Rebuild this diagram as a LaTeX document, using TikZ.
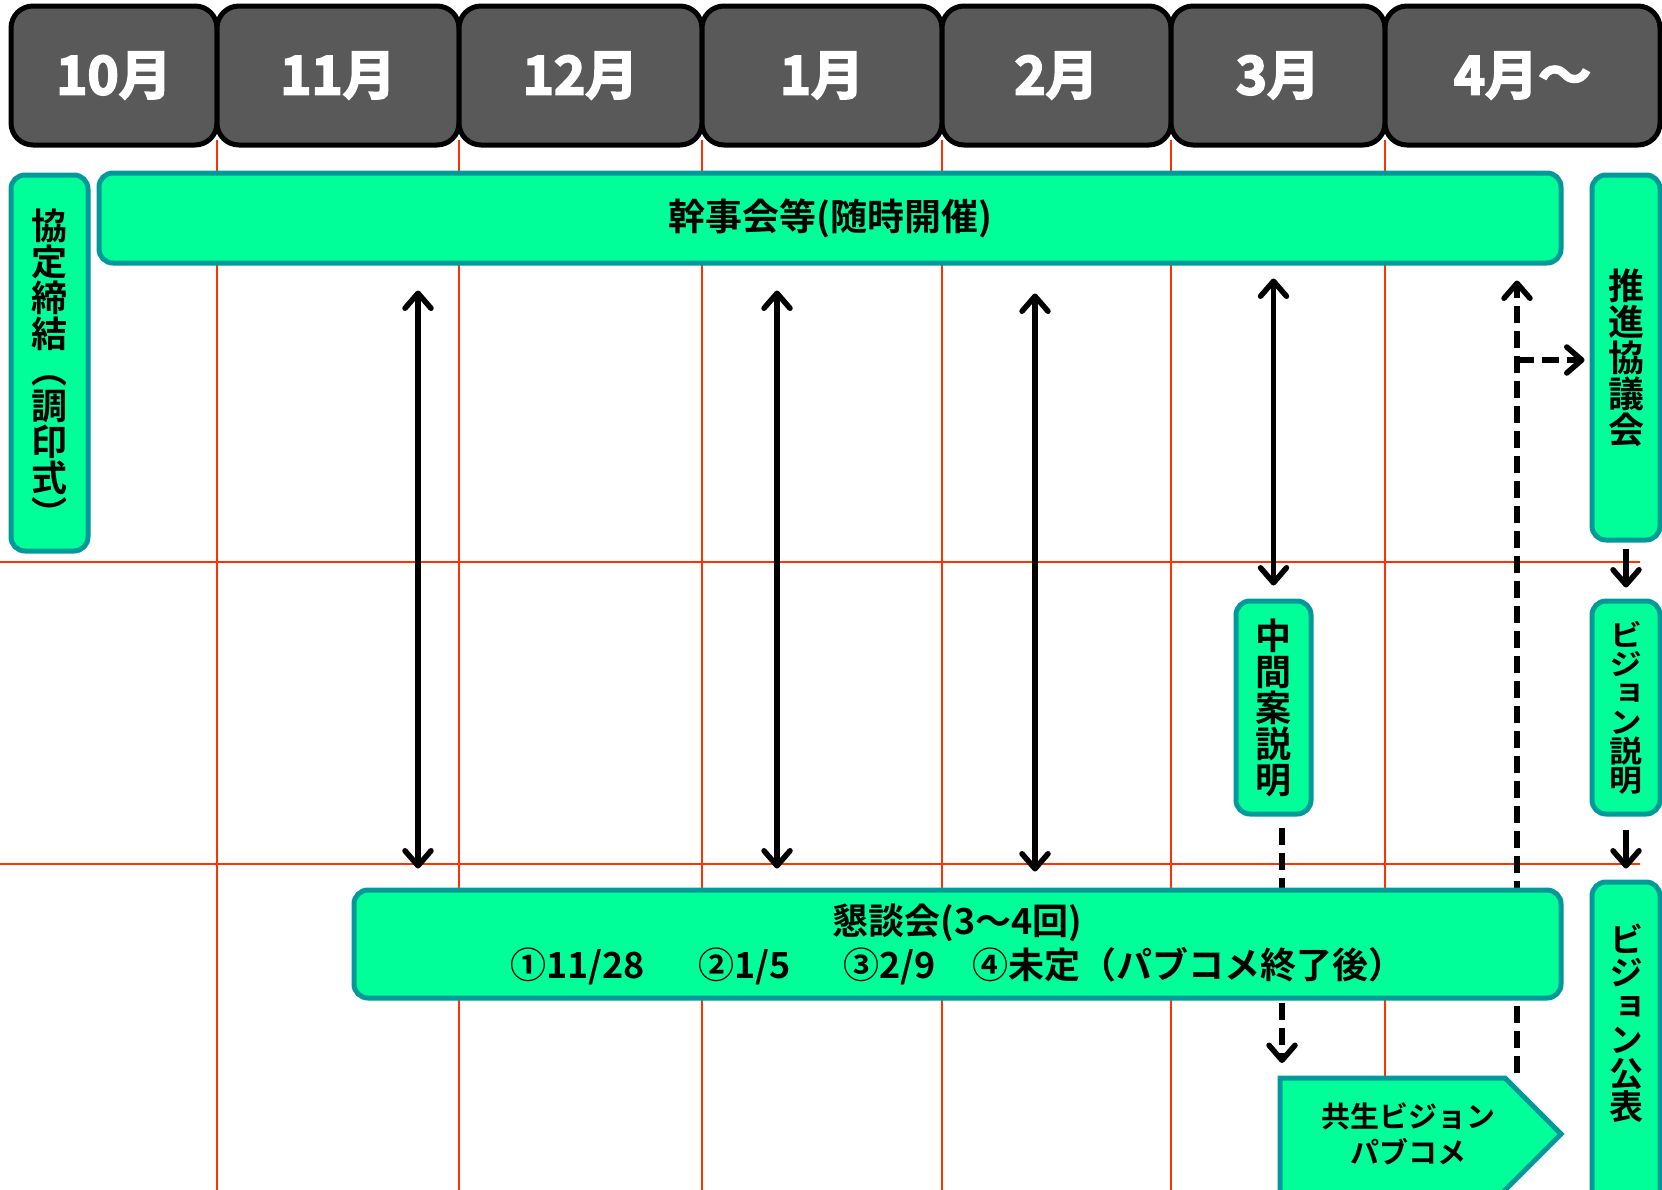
\documentclass[tikz,border=0pt]{standalone}
\usepackage{fontspec}
\newfontfamily\jp{Noto Sans CJK JP Bold}
\newfontfamily\jph{Noto Sans CJK JP Bold}[FakeBold=3.5]
\newfontfamily\jpv{Noto Sans CJK JP Bold}[RawFeature=+vert]
\newfontfamily\jpvw{Noto Sans CJK JP Bold}[RawFeature=+vert, FakeStretch=1.1]
\usetikzlibrary{arrows.meta}
\pgfdeclarelayer{bg}
\pgfdeclarelayer{mid}
\pgfsetlayers{bg,mid,main}
\definecolor{gfill}{HTML}{00FF99}
\definecolor{gline}{HTML}{009999}
\definecolor{hfill}{HTML}{595959}
\definecolor{gridred}{HTML}{FF3300}
\tikzset{
  month/.style={draw=black, line width=5pt, fill=hfill, rounded corners=22pt,
    minimum height=139pt, text=white, inner sep=0pt,
    font=\jph\fontsize{53pt}{53pt}\selectfont},
  gbox/.style={draw=gline, line width=5pt, fill=gfill, rounded corners=14pt,
    inner sep=0pt, font=\jp\fontsize{37pt}{37pt}\selectfont},
  vbox/.style={gbox, align=center, font=\jpv\fontsize{36pt}{36pt}\selectfont},
  vtext/.style={align=center, inner sep=0pt, font=\jpv\fontsize{34pt}{33.5pt}\selectfont},
  gridline/.style={draw=gridred, line width=2pt},
  tipb/.tip={Straight Barb[length=15pt,width=26pt,line join=round,line cap=round]},
  arr/.style={line width=5.5pt, -tipb},
  dbl/.style={line width=5.5pt, tipb-tipb},
  dsh/.style={line width=5.5pt, dash pattern=on 17pt off 8pt, -tipb},
}
\begin{document}
\begin{tikzpicture}[x=1pt,y=-1pt]
\useasboundingbox (0,0) rectangle (1662,1189);

% grid
\begin{pgfonlayer}{bg}
\foreach \gx in {217,459,702,942,1171,1385}
  \draw[gridline] (\gx,140) -- (\gx,1195);
\foreach \gy in {562,864}
  \draw[gridline] (0,\gy) -- (1640,\gy);
\end{pgfonlayer}

% month header
\node[month, minimum width=206pt] (m10) at (114,75.5) {10月};
\node[month, minimum width=242pt] (m11) at (338,75.5) {11月};
\node[month, minimum width=243pt] (m12) at (580.5,75.5) {12月};
\node[month, minimum width=240pt] (m1) at (822,75.5) {1月};
\node[month, minimum width=229pt] (m2) at (1056.5,75.5) {2月};
\node[month, minimum width=214pt] (m3) at (1278,75.5) {3月};
\node[month, minimum width=275pt] (m4) at (1522.5,75.5) {4月～};

% boxes
\node[vbox, minimum width=77pt, minimum height=376pt] (kyotei) at (49.5,363)
  {};
\node[align=center, inner sep=0pt, font=\jpv\fontsize{36pt}{36pt}\selectfont]
  (kyoteit) at (49.5,368)
  {協\\定\\締\\結\\{\jp ︵}\\調\\印\\式\\{\jp ︶}};
\node[gbox, minimum width=1462pt, minimum height=90pt] (kanji) at (830,218)
  {幹事会等(随時開催)};
\node[vbox, minimum width=68pt, minimum height=365pt] (suishin) at (1626,357.5)
  {推\\進\\協\\議\\会};
\node[vbox, minimum width=75pt, minimum height=213pt] (chukan) at (1273.5,707.5)
  {中\\間\\案\\説\\明};
\node[vbox, minimum width=68pt, minimum height=213pt,
  font=\jpvw\fontsize{30pt}{29pt}\selectfont] (vsetsu) at (1626,707.5)
  {ビ\\ジ\\ョ\\ン\\説\\明};
\node[gbox, minimum width=1207pt, minimum height=108pt, align=center,
  font=\jp\fontsize{36pt}{44pt}\selectfont] (kondan) at (957.5,944)
  {懇談会(3～4回)\\①11/28\hspace{53pt}②1/5\hspace{53pt}③2/9\hspace{37pt}④未定（パブコメ終了後）};
\node[gbox, minimum width=68pt, minimum height=338pt] (vpub) at (1626,1051) {};
\node[vtext] (vpubt) at (1626,1023) {ビ\\ジ\\ョ\\ン\\公\\表};

\draw[draw=gline, line width=5pt, fill=gfill]
  (1280,1078) -- (1505,1078) -- (1561,1134) -- (1500,1195) -- (1280,1195) -- cycle;
\node[align=center, inner sep=0pt, font=\jp\fontsize{29pt}{36pt}\selectfont]
  (pubcom) at (1408,1134) {共生ビジョン\\パブコメ};
\coordinate (pubtop) at (1282,1078);

% solid arrows
\coordinate (a1) at (418,0);
\coordinate (a2) at (777,0);
\coordinate (a3) at (1035,0);
\draw[dbl, shorten <=25pt, shorten >=19pt] (kanji.south -| a1) -- (kondan.north -| a1);
\draw[dbl, shorten <=25pt, shorten >=19pt] (kanji.south -| a2) -- (kondan.north -| a2);
\draw[dbl, shorten <=28pt, shorten >=16pt] (kanji.south -| a3) -- (kondan.north -| a3);
\draw[dbl, shorten <=13pt, shorten >=13pt] (kanji.south -| chukan) -- (chukan.north);
\draw[arr, shorten <=6pt, shorten >=11pt] (suishin.south) -- (vsetsu.north);
\draw[arr, shorten <=13pt, shorten >=11pt] (vsetsu.south) -- (vpub.north);

% dashed arrows (behind boxes)
\begin{pgfonlayer}{mid}
\coordinate (d1) at (1517,1073);
\coordinate (d2) at (1517,360);
\draw[dsh, shorten >=15pt] (d1) -- (kanji.south -| d1);
\draw[dsh, shorten >=5pt] (d2) -- (suishin.west |- d2);
\draw[dsh, shorten <=11pt, shorten >=15pt] (chukan.south -| pubtop) -- (pubtop);
\end{pgfonlayer}
\end{tikzpicture}
\end{document}
